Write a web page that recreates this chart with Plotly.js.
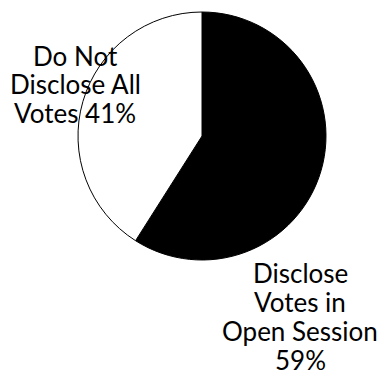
<!DOCTYPE html>
<html>
<head>
<meta charset="utf-8">
<script src="https://cdn.plot.ly/plotly-3.0.1.min.js"></script>
<style>html,body{margin:0;padding:0;background:#fff;}#chart{width:384px;height:370px;}</style>
</head>
<body>
<div id="chart"></div>
<script>
const categories = ["Disclose Votes in Open Session", "Do Not Disclose All Votes"];
const values = [59, 41];
const colors = ["#000000", "#ffffff"];
// how each label is wrapped in the picture ({p} = percentage)
const labelLines = [
  ["Disclose", "Votes in", "Open Session", "{p}%"],
  ["Do Not", "Disclose All", "Votes {p}%"]
];

// layout: label centre x (px) and baseline of first line (px), line step (px)
const labelLayout = [
  {cx: 300, base: 282.5, step: 28.8},
  {cx: 75, base: 65, step: 28.5}
];
const FS = 26;

const annotations = [];
labelLines.forEach((lines, i) => {
  const L = labelLayout[i];
  lines.forEach((ln, k) => {
    const baseline = L.base + k * L.step;
    annotations.push({
      text: ln.replace("{p}", values[i]),
      x: L.cx / 384, y: 1 - (baseline - 0.36 * FS) / 370,
      xref: "paper", yref: "paper",
      xanchor: "center", yanchor: "middle",
      showarrow: false,
      font: {family: "Lato", size: FS, color: "#000"}
    });
  });
});

Plotly.newPlot("chart", [{
  type: "pie",
  labels: categories,
  values: values,
  sort: false,
  direction: "clockwise",
  rotation: 0,
  textinfo: "none",
  hoverinfo: "none",
  marker: {colors: colors, line: {color: "#000", width: 1}},
  domain: {x: [78 / 384, 326 / 384], y: [1 - 260 / 370, 1 - 12 / 370]}
}], {
  width: 384, height: 370,
  margin: {l: 0, r: 0, t: 0, b: 0},
  showlegend: false,
  paper_bgcolor: "#fff",
  annotations: annotations
}, {staticPlot: true});
</script>
</body>
</html>
